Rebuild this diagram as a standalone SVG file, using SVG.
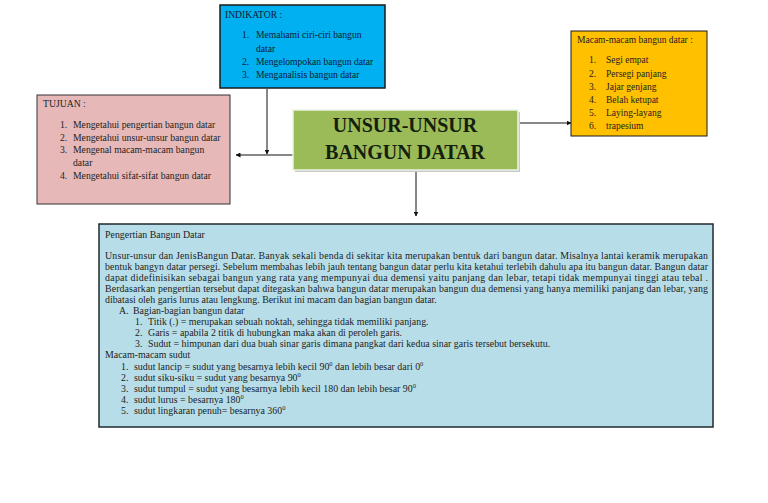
<svg xmlns="http://www.w3.org/2000/svg" width="768" height="503" viewBox="0 0 768 503">
<defs>
<marker id="arr" viewBox="0 0 10 10" refX="9" refY="5" markerWidth="5" markerHeight="5" orient="auto" markerUnits="userSpaceOnUse">
<path d="M0,0 L10,5 L0,10 z" fill="#111"/>
</marker>
</defs>
<style>
.t{font-family:"Liberation Serif","Times New Roman",serif;font-size:9.5px;fill:#222}
.tj{font-family:"Liberation Serif","Times New Roman",serif;font-size:9.7px;fill:#222}
.ti{font-family:"Liberation Serif","Times New Roman",serif;font-size:9.6px;fill:#0d1a33}
.b{font-family:"Liberation Serif","Times New Roman",serif;font-size:9.9px;fill:#222}
.h{font-family:"Liberation Serif","Times New Roman",serif;font-size:20px;font-weight:bold;fill:#14200c}
.c{stroke:#111;stroke-width:1;fill:none;marker-end:url(#arr)}
</style>
<rect width="768" height="503" fill="#fff"/>
<g id="connectors">
<line class="c" x1="267" y1="89" x2="267" y2="154"/>
<line class="c" x1="293" y1="155" x2="236" y2="155"/>
<line class="c" x1="518" y1="123" x2="571" y2="123"/>
<line class="c" x1="416" y1="171" x2="416" y2="216"/>
</g>
<g id="indikator">
<rect x="220" y="5" width="165" height="83" fill="#00B0F0" stroke="#1a1a1a" stroke-width="1.5"/>
<text class="ti" x="225" y="18">INDIKATOR :</text>
<text class="ti" x="242" y="38">1.</text><text class="ti" x="256" y="38">Memahami ciri-ciri bangun</text>
<text class="ti" x="256" y="52">datar</text>
<text class="ti" x="242" y="65">2.</text><text class="ti" x="256" y="65">Mengelompokan bangun datar</text>
<text class="ti" x="242" y="78">3.</text><text class="ti" x="256" y="78">Menganalisis bangun datar</text>
</g>
<g id="macam">
<rect x="571" y="31" width="136" height="105" fill="#FFC000" stroke="#1a1a1a" stroke-width="1"/>
<text class="t" x="577" y="43">Macam-macam bangun datar :</text>
<text class="t" x="589" y="63">1.</text><text class="t" x="606" y="63">Segi empat</text>
<text class="t" x="589" y="77">2.</text><text class="t" x="606" y="77">Persegi panjang</text>
<text class="t" x="589" y="90">3.</text><text class="t" x="606" y="90">Jajar genjang</text>
<text class="t" x="589" y="103">4.</text><text class="t" x="606" y="103">Belah ketupat</text>
<text class="t" x="589" y="116">5.</text><text class="t" x="606" y="116">Laying-layang</text>
<text class="t" x="589" y="129">6.</text><text class="t" x="606" y="129">trapesium</text>
</g>
<g id="tujuan">
<rect x="37" y="95" width="193" height="109" fill="#E6B9B8" stroke="#333" stroke-width="1"/>
<text class="tj" x="43" y="107">TUJUAN :</text>
<text class="tj" x="60" y="128">1.</text><text class="tj" x="73" y="128">Mengetahui pengertian bangun datar</text>
<text class="tj" x="60" y="141">2.</text><text class="tj" x="73" y="141">Mengetahui unsur-unsur bangun datar</text>
<text class="tj" x="60" y="153">3.</text><text class="tj" x="73" y="153">Mengenal macam-macam bangun</text>
<text class="tj" x="73" y="166">datar</text>
<text class="tj" x="60" y="179">4.</text><text class="tj" x="73" y="179">Mengetahui sifat-sifat bangun datar</text>
</g>
<g id="judul">
<rect x="295" y="112" width="225" height="60" fill="#c8c8c8"/>
<rect x="293" y="110" width="225" height="60" fill="#9BBB59" stroke="#eef2e6" stroke-width="1.5"/>
<text class="h" x="405" y="132" text-anchor="middle">UNSUR-UNSUR</text>
<text class="h" x="405" y="159" text-anchor="middle">BANGUN DATAR</text>
</g>
<g id="pengertian">
<rect x="99" y="224" width="614" height="203" fill="#B7DEE8" stroke="#1f2a2e" stroke-width="1.5"/>
<text class="b" x="105" y="238">Pengertian Bangun Datar</text>
<text class="b" x="105" y="259" textLength="603" lengthAdjust="spacing">Unsur-unsur dan JenisBangun Datar. Banyak sekali benda di sekitar kita merupakan bentuk dari bangun datar. Misalnya lantai keramik merupakan</text>
<text class="b" x="105" y="270" textLength="603" lengthAdjust="spacing">bentuk bangyn datar persegi. Sebelum membahas lebih jauh tentang bangun datar perlu kita ketahui terlebih dahulu apa itu bangun datar. Bangun datar</text>
<text class="b" x="105" y="281" textLength="603" lengthAdjust="spacing">dapat didefinisikan sebagai bangun yang rata yang mempunyai dua demensi yaitu panjang dan lebar, tetapi tidak mempunyai tinggi atau tebal .</text>
<text class="b" x="105" y="292" textLength="603" lengthAdjust="spacing">Berdasarkan pengertian tersebut dapat ditegaskan bahwa bangun datar merupakan bangun dua demensi yang hanya memiliki panjang dan lebar, yang</text>
<text class="b" x="105" y="303">dibatasi oleh garis lurus atau lengkung. Berikut ini macam dan bagian bangun datar.</text>
<text class="b" x="119" y="314">A.</text><text class="b" x="133" y="314">Bagian-bagian bangun datar</text>
<text class="b" x="135" y="325">1.</text><text class="b" x="148" y="325">Titik (.) = merupakan sebuah noktah, sehingga tidak memiliki panjang.</text>
<text class="b" x="135" y="336">2.</text><text class="b" x="148" y="336">Garis = apabila 2 titik di hubungkan maka akan di peroleh garis.</text>
<text class="b" x="135" y="347">3.</text><text class="b" x="148" y="347">Sudut = himpunan dari dua buah sinar garis dimana pangkat dari kedua sinar garis tersebut bersekutu.</text>
<text class="b" x="105" y="358">Macam-macam sudut</text>
<text class="b" x="121" y="370">1.</text><text class="b" x="134" y="370">sudut lancip = sudut yang besarnya lebih kecil 90<tspan dy="-4" font-size="6.5">0</tspan><tspan dy="4"> dan lebih besar dari 0</tspan><tspan dy="-4" font-size="6.5">0</tspan></text>
<text class="b" x="121" y="381">2.</text><text class="b" x="134" y="381">sudut siku-siku = sudut yang besarnya 90<tspan dy="-4" font-size="6.5">0</tspan></text>
<text class="b" x="121" y="392">3.</text><text class="b" x="134" y="392">sudut tumpul = sudut yang besarnya lebih kecil 180 dan lebih besar 90<tspan dy="-4" font-size="6.5">0</tspan></text>
<text class="b" x="121" y="403">4.</text><text class="b" x="134" y="403">sudut lurus = besarnya 180<tspan dy="-4" font-size="6.5">0</tspan></text>
<text class="b" x="121" y="414">5.</text><text class="b" x="134" y="414">sudut lingkaran penuh= besarnya 360<tspan dy="-4" font-size="6.5">0</tspan></text>
</g>
</svg>
